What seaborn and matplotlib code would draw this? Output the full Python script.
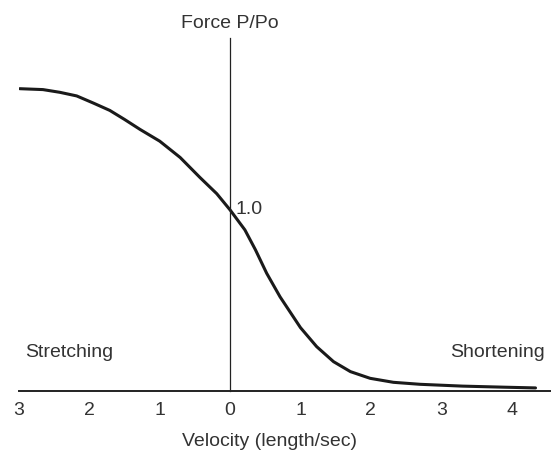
import matplotlib
matplotlib.use('Agg')
import pandas as pd
import matplotlib.pyplot as plt
import seaborn as sns

# velocity (negative = stretching) and relative force
velocity = [-2.99, -2.66, -2.42, -2.18, -1.94, -1.71, -1.5, -1.28, -1.0,
            -0.71, -0.43, -0.19, 0.0, 0.21, 0.36, 0.52, 0.71, 1.0, 1.23,
            1.47, 1.71, 1.99, 2.32, 2.70, 3.3, 3.9, 4.34]
force = [1.67, 1.665, 1.65, 1.63, 1.59, 1.55, 1.50, 1.445, 1.38,
         1.29, 1.18, 1.09, 1.0, 0.89, 0.78, 0.65, 0.52, 0.35, 0.245,
         0.162, 0.107, 0.07, 0.048, 0.037, 0.027, 0.021, 0.017]
tick_pos = [-3, -2, -1, 0, 1, 2, 3, 4]
tick_labels = ["3", "2", "1", "0", "1", "2", "3", "4"]

sns.set_style("white")
plt.rcParams['font.family'] = ['Liberation Sans', 'DejaVu Sans']
txt = "#333333"
fs = 14

df = pd.DataFrame({"Velocity": velocity, "Force": force})

fig = plt.figure(figsize=(5.51, 4.57), dpi=100)
ax = fig.add_axes([19 / 551, 66 / 457, 1 - 19 / 551, (391 - 38) / 457])
sns.lineplot(data=df, x="Velocity", y="Force", ax=ax, color="#1a1a1a",
             linewidth=2.2, sort=False, estimator=None)

ax.set_xlim(-3, 4.56)
ax.set_ylim(0, 1.95)
for s in ["top", "right"]:
    ax.spines[s].set_visible(False)
ax.spines["left"].set_position(("data", 0))
ax.spines["left"].set_linewidth(0.9)
ax.spines["left"].set_color("#222222")
ax.spines["bottom"].set_linewidth(1.4)
ax.spines["bottom"].set_color("#222222")
ax.set_yticks([])
ax.set_xticks(tick_pos)
ax.set_xticklabels(tick_labels)
ax.tick_params(axis="x", direction="out", length=5, width=1.2, color="#222222",
               labelsize=fs, labelcolor=txt, pad=3)
ax.set_ylabel("")
ax.set_xlabel("Velocity (length/sec)", fontsize=fs, color=txt)
ax.xaxis.set_label_coords((270 - 19) / (551 - 19), -0.12)

ax.text(0, 1.985, "Force P/Po", ha="center", va="bottom", fontsize=fs, color=txt,
        clip_on=False)
ax.text(0.08, 1.0, "1.0", ha="left", va="center", fontsize=fs, color=txt)
ax.text(-2.92, 0.21, "Stretching", ha="left", va="center", fontsize=fs, color=txt)
ax.text(4.47, 0.21, "Shortening", ha="right", va="center", fontsize=fs, color=txt)

fig.savefig("out.png", dpi=100)
